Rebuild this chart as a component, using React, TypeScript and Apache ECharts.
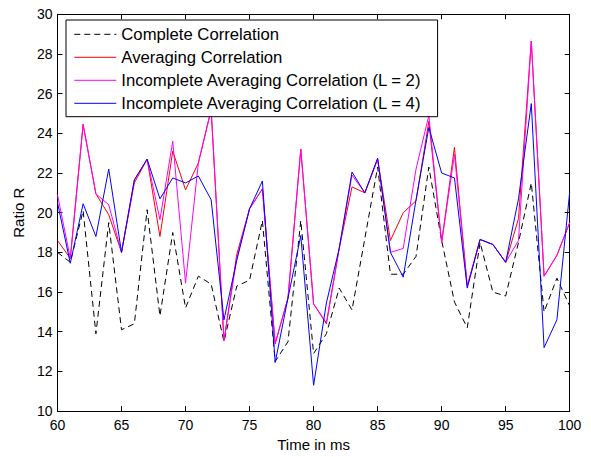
import React, { useEffect, useRef } from "react";
import * as echarts from "echarts";

const times = [
  60, 61, 62, 63, 64, 65, 66, 67, 68, 69, 70, 71, 72, 73, 74, 75, 76, 77, 78, 79, 80,
  81, 82, 83, 84, 85, 86, 87, 88, 89, 90, 91, 92, 93, 94, 95, 96, 97, 98, 99, 100,
];

const completeCorr = [
  18.0, 17.5, 20.1, 13.9, 19.5, 14.1, 14.4, 20.15, 14.8, 19.0, 15.2, 16.8, 16.4, 13.5, 16.3,
  16.6, 19.6, 12.5, 13.5, 19.6, 12.9, 13.9, 16.2, 15.1, 18.7, 22.3, 16.9, 16.9, 17.8, 22.3,
  18.6, 15.5, 14.2, 18.5, 16.0, 15.8, 18.5, 21.5, 15.0, 16.7, 15.3,
];

const averagingCorr = [
  18.6, 17.7, 24.45, 20.95, 19.9, 18.0, 21.5, 22.7, 18.8, 23.1, 21.15, 22.5, 25.2, 13.55,
  17.9, 20.2, 21.2, 13.4, 15.7, 23.2, 15.4, 14.4, 18.2, 21.3, 21.0, 22.7, 18.6, 20.0, 20.6,
  24.6, 18.5, 23.3, 16.3, 18.65, 18.4, 17.5, 19.7, 28.65, 16.8, 17.85, 19.5,
];

const incompleteL2 = [
  20.9, 17.7, 24.45, 20.95, 20.4, 18.0, 21.65, 22.7, 19.65, 23.6, 16.45, 22.5, 25.2, 13.55,
  17.7, 20.2, 21.2, 13.4, 15.7, 23.2, 15.4, 14.45, 18.2, 21.9, 21.0, 22.7, 18.0, 18.2, 22.2,
  24.9, 18.5, 22.95, 16.3, 18.65, 18.4, 17.5, 18.6, 28.65, 16.8, 17.85, 19.5,
];

const incompleteL4 = [
  20.5, 17.45, 20.45, 18.8, 22.2, 18.0, 21.65, 22.7, 20.7, 21.75, 21.5, 21.85, 20.65, 14.6,
  17.6, 20.2, 21.6, 12.45, 15.7, 18.85, 11.3, 15.45, 18.2, 22.05, 21.0, 22.75, 18.0, 16.75,
  20.65, 24.3, 22.0, 21.75, 16.2, 18.65, 18.4, 17.5, 20.7, 25.5, 13.2, 14.6, 21.05,
];

const seriesNames = [
  "Complete Correlation",
  "Averaging Correlation",
  "Incomplete Averaging Correlation (L = 2)",
  "Incomplete Averaging Correlation (L = 4)",
];

const FONT = "'Liberation Sans', Arial, Helvetica, sans-serif";

const pairs = (ys: number[]) => times.map((t, i) => [t, ys[i]]);

export default function App() {
  const ref = useRef<HTMLDivElement>(null);

  useEffect(() => {
    if (!ref.current) return;
    const chart = echarts.init(ref.current, undefined, { renderer: "svg" });

    const axisCommon = {
      axisLine: { show: true, lineStyle: { color: "#000", width: 1 } },
      axisTick: { show: true, inside: true, length: 5, lineStyle: { color: "#000" } },
      splitLine: { show: false },
    };

    const mkLine = (name: string, data: number[], color: string, dashed = false) => ({
      name,
      type: "line",
      data: pairs(data),
      symbol: "none",
      showSymbol: false,
      lineStyle: { color, width: 1, type: dashed ? [6, 4] : "solid" },
      itemStyle: { color },
      z: 2,
    });

    chart.setOption({
      animation: false,
      backgroundColor: "#fff",
      textStyle: { fontFamily: FONT },
      grid: { left: 57.5, right: 21.3, top: 14.3, bottom: 38.7, containLabel: false },
      xAxis: [
        {
          type: "value",
          min: 60,
          max: 100,
          interval: 5,
          position: "bottom",
          name: "Time in ms",
          nameLocation: "middle",
          nameGap: 21,
          nameTextStyle: { color: "#000", fontSize: 15, fontFamily: FONT },
          axisLabel: { color: "#000", fontSize: 14, fontFamily: FONT, margin: 7 },
          ...axisCommon,
        },
        {
          type: "value",
          min: 60,
          max: 100,
          interval: 5,
          position: "top",
          axisLabel: { show: false },
          ...axisCommon,
        },
      ],
      yAxis: [
        {
          type: "value",
          min: 10,
          max: 30,
          interval: 2,
          position: "left",
          name: "Ratio R",
          nameLocation: "middle",
          nameGap: 28,
          nameTextStyle: { color: "#000", fontSize: 15, fontFamily: FONT },
          axisLabel: { color: "#000", fontSize: 14, fontFamily: FONT, margin: 5 },
          ...axisCommon,
        },
        {
          type: "value",
          min: 10,
          max: 30,
          interval: 2,
          position: "right",
          axisLabel: { show: false },
          ...axisCommon,
        },
      ],
      legend: {
        show: true,
        orient: "vertical",
        left: 66,
        top: 20,
        data: seriesNames,
        backgroundColor: "#fff",
        borderColor: "#000",
        borderWidth: 1,
        borderRadius: 0,
        padding: [5.8, 15.6, 4.9, 7.8],
        itemWidth: 42,
        itemHeight: 17,
        itemGap: 6,
        itemStyle: { opacity: 0 },
        lineStyle: { width: 1 },
        textStyle: { color: "#000", fontSize: 16.7, fontFamily: FONT, lineHeight: 17 },
        selectedMode: false,
        z: 10,
      },
      series: [
        mkLine(seriesNames[0], completeCorr, "#000000", true),
        mkLine(seriesNames[1], averagingCorr, "#ff0000"),
        mkLine(seriesNames[2], incompleteL2, "#ff00ff"),
        mkLine(seriesNames[3], incompleteL4, "#0000ff"),
      ],
    });

    return () => chart.dispose();
  }, []);

  return (
    <div
      ref={ref}
      style={{ position: "absolute", left: 0, top: 0, width: 591, height: 457 }}
    />
  );
}
